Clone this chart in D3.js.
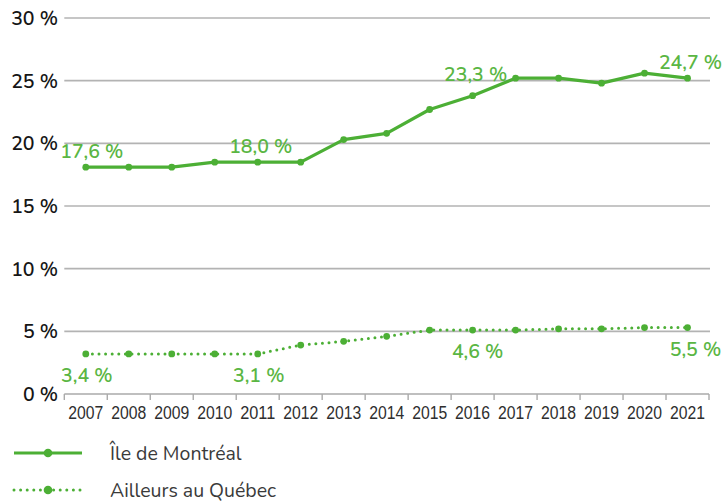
<!DOCTYPE html>
<html>
<head>
<meta charset="utf-8">
<script src="https://cdn.jsdelivr.net/npm/d3@7"></script>
<style>
  html, body { margin: 0; padding: 0; background: #fff; }
  svg { display: block; }
</style>
</head>
<body>
<svg id="chart" width="723" height="502"></svg>
<script>
// ---- Data ----
const years = ["2007","2008","2009","2010","2011","2012","2013","2014","2015","2016","2017","2018","2019","2020","2021"];
const montreal = [18.1, 18.1, 18.1, 18.5, 18.5, 18.5, 20.3, 20.8, 22.7, 23.8, 25.2, 25.2, 24.8, 25.6, 25.2];
const ailleurs = [3.2, 3.2, 3.2, 3.2, 3.2, 3.9, 4.2, 4.6, 5.1, 5.1, 5.1, 5.2, 5.2, 5.3, 5.3];
const yTicks = [0, 5, 10, 15, 20, 25, 30];
const yTickLabels = ["0 %", "5 %", "10 %", "15 %", "20 %", "25 %", "30 %"];
const seriesNames = ["Île de Montréal", "Ailleurs au Québec"];
// annotations: [year, label text]
const montrealLabels = [["2007", "17,6 %"], ["2011", "18,0 %"], ["2016", "23,3 %"], ["2021", "24,7 %"]];
const ailleursLabels = [["2007", "3,4 %"], ["2011", "3,1 %"], ["2016", "4,6 %"], ["2021", "5,5 %"]];

// ---- Layout ----
const svg = d3.select("#chart");
const plotLeft = 64.3, plotRight = 709, plotTop = 18, plotBottom = 394;
const lineColor = "#4caf35";
const textGreen = "#5ab643";
const labelFont = "Nunito, Lato, 'Noto Sans', sans-serif";

const x = d3.scaleBand().domain(years).range([plotLeft, plotRight]).paddingInner(0).paddingOuter(0);
const y = d3.scaleLinear().domain([0, 30]).range([plotBottom, plotTop]);
const cx = d => x(d) + x.bandwidth() / 2;

// gridlines
svg.append("g")
  .selectAll("line")
  .data(yTicks.filter(t => t > 0))
  .join("line")
  .attr("x1", plotLeft).attr("x2", plotRight + 1)
  .attr("y1", d => y(d)).attr("y2", d => y(d))
  .attr("stroke", "#b3b3b3").attr("stroke-width", 1.6);

// y-axis labels
svg.append("g")
  .selectAll("text")
  .data(yTicks)
  .join("text")
  .attr("x", 58).attr("y", d => y(d) + 7)
  .attr("text-anchor", "end")
  .attr("font-family", labelFont)
  .attr("font-size", 19.5)
  .attr("font-weight", 600)
  .attr("fill", "#161616")
  .text((d, i) => yTickLabels[i]);

// x axis
const xAxis = d3.axisBottom(x).tickSize(0).tickPadding(0);
const gx = svg.append("g").attr("transform", `translate(0,${plotBottom})`).call(xAxis);
gx.select(".domain").attr("stroke", "#aaaaaa").attr("stroke-width", 1.6)
  .attr("d", `M${plotLeft},0H${plotRight}`);
gx.selectAll(".tick text")
  .attr("y", 25)
  .attr("dy", 0)
  .attr("font-family", "'Liberation Sans', Arial, sans-serif")
  .attr("font-size", 18)
  .attr("textLength", 35)
  .attr("lengthAdjust", "spacingAndGlyphs")
  .attr("fill", "#2e2e2e");
// tick marks at band boundaries
const boundaries = years.map(d => x(d)).concat([plotRight]);
gx.append("g").selectAll("line")
  .data(boundaries)
  .join("line")
  .attr("x1", d => d).attr("x2", d => d)
  .attr("y1", 0).attr("y2", 6)
  .attr("stroke", "#aaaaaa").attr("stroke-width", 1.4);

// lines
const line = d3.line().x((d, i) => cx(years[i])).y(d => y(d));

svg.append("path")
  .datum(montreal)
  .attr("d", line)
  .attr("fill", "none")
  .attr("stroke", lineColor)
  .attr("stroke-width", 3.2)
  .attr("stroke-linejoin", "round");
svg.append("g").selectAll("circle")
  .data(montreal)
  .join("circle")
  .attr("cx", (d, i) => cx(years[i])).attr("cy", d => y(d))
  .attr("r", 3.4).attr("fill", lineColor);

svg.append("path")
  .datum(ailleurs)
  .attr("d", line)
  .attr("fill", "none")
  .attr("stroke", lineColor)
  .attr("stroke-width", 3)
  .attr("stroke-linecap", "round")
  .attr("stroke-dasharray", "0 6.6");
svg.append("g").selectAll("circle")
  .data(ailleurs)
  .join("circle")
  .attr("cx", (d, i) => cx(years[i])).attr("cy", d => y(d))
  .attr("r", 3.4).attr("fill", lineColor);

// annotations
const idx = yr => years.indexOf(yr);
svg.append("g").selectAll("text")
  .data(montrealLabels)
  .join("text")
  .attr("x", d => cx(d[0]) + (d[0] === "2007" ? 6 : 3))
  .attr("y", d => y(montreal[idx(d[0])]) - (d[0] === "2016" ? 15 : 9))
  .attr("text-anchor", "middle")
  .attr("font-family", labelFont)
  .attr("font-size", 19.5)
  .attr("font-weight", 600)
  .attr("fill", textGreen)
  .text(d => d[1]);

svg.append("g").selectAll("text")
  .data(ailleursLabels)
  .join("text")
  .attr("x", d => cx(d[0]) + (d[0] === "2021" ? 8 : (d[0] === "2016" ? 5 : 1)))
  .attr("y", d => y(ailleurs[idx(d[0])]) + 28)
  .attr("text-anchor", "middle")
  .attr("font-family", labelFont)
  .attr("font-size", 19.5)
  .attr("font-weight", 600)
  .attr("fill", textGreen)
  .text(d => d[1]);

// legend
const legend = svg.append("g");
const legRows = [{name: seriesNames[0], yy: 453, dash: null}, {name: seriesNames[1], yy: 490, dash: "0 6.6"}];
legRows.forEach(r => {
  const ln = legend.append("line")
    .attr("x1", 14).attr("x2", r.dash ? 86 : 82)
    .attr("y1", r.yy).attr("y2", r.yy)
    .attr("stroke", lineColor).attr("stroke-width", 3);
  if (r.dash) ln.attr("stroke-dasharray", r.dash).attr("stroke-linecap", "round");
  legend.append("circle").attr("cx", 48).attr("cy", r.yy).attr("r", 4.3).attr("fill", lineColor);
  legend.append("text")
    .attr("x", 110).attr("y", r.yy + 6.5)
    .attr("font-family", labelFont)
    .attr("font-size", 19.5)
    .attr("fill", "#3a3a3a")
    .text(r.name);
});
</script>
</body>
</html>
